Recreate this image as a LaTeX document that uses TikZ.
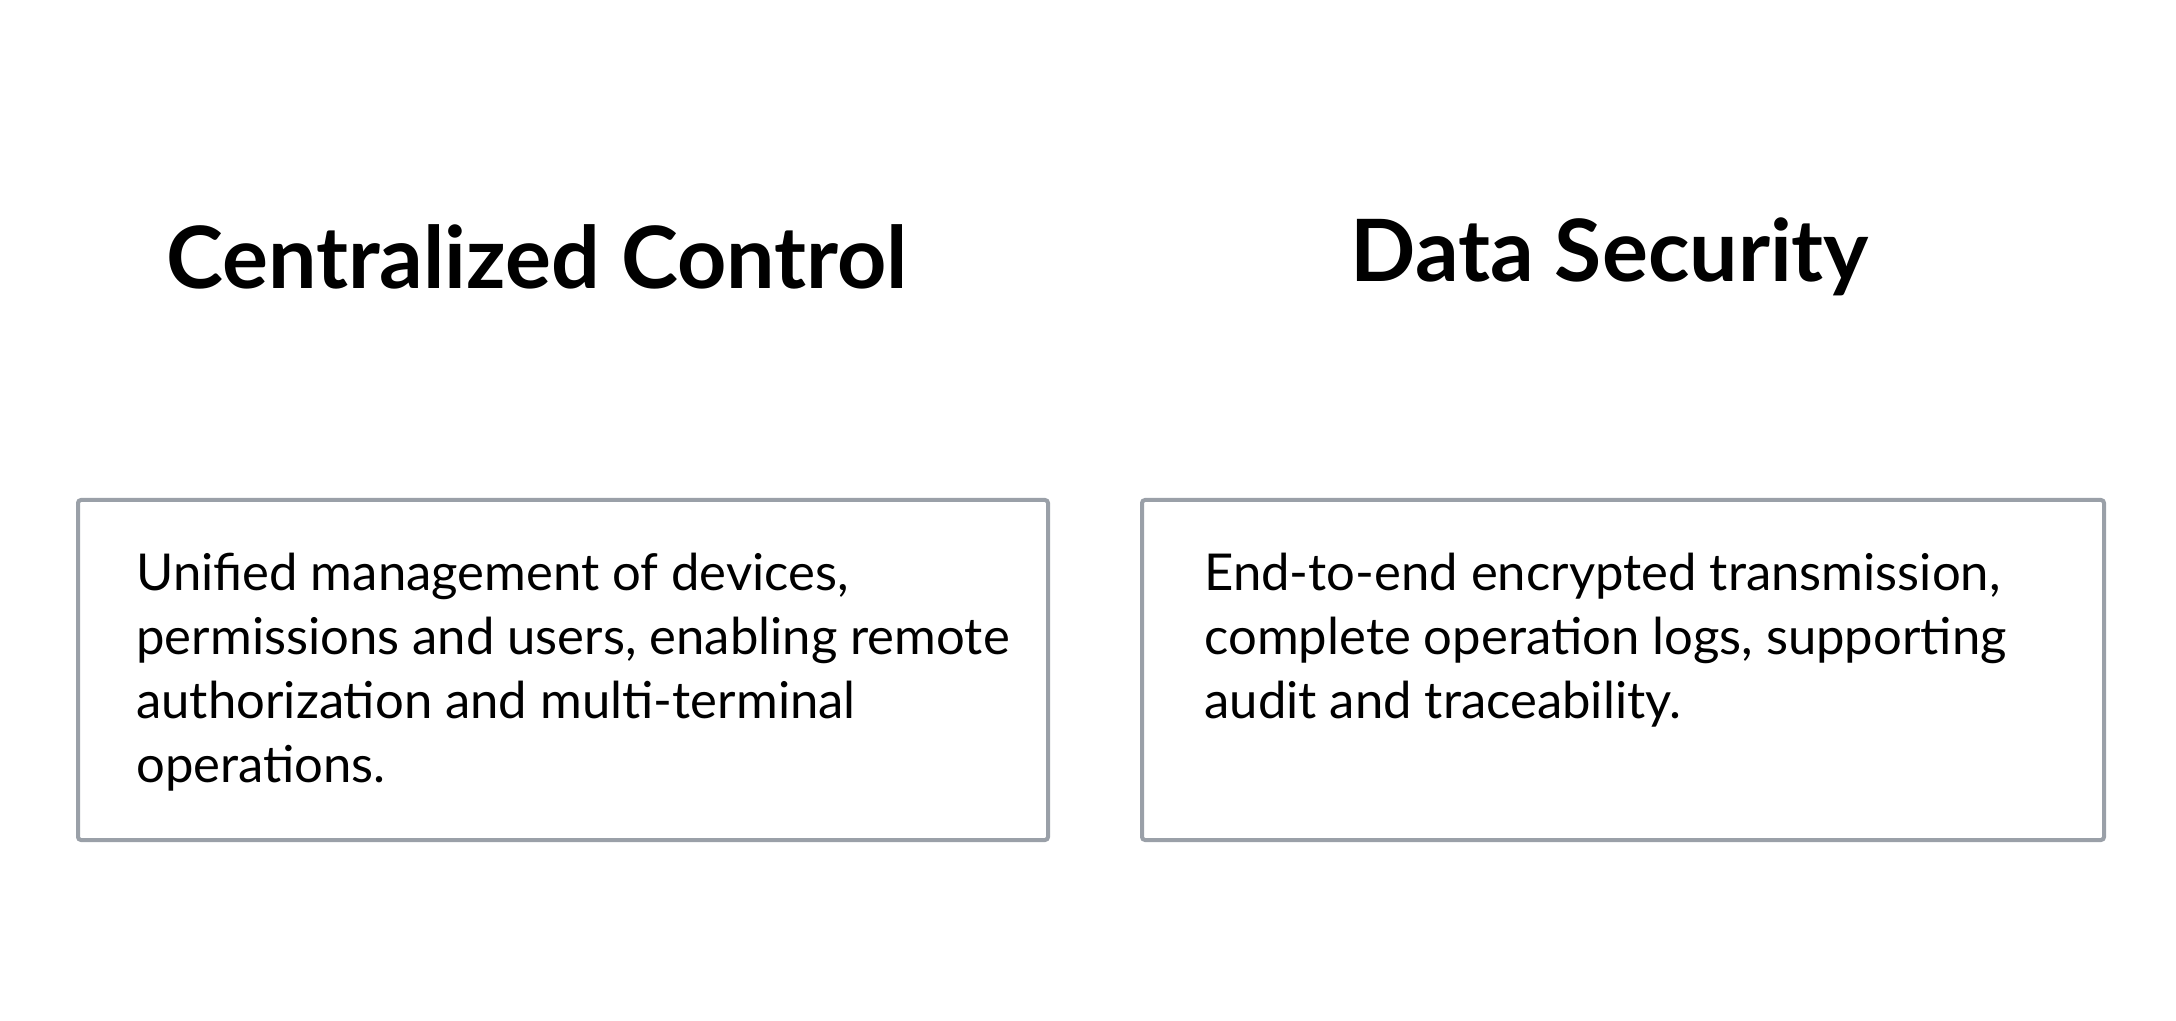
\documentclass[tikz,border=0pt]{standalone}
\usepackage{fontspec}
\setmainfont{Lato}
\definecolor{boxgray}{HTML}{9AA0A8}
\begin{document}
\begin{tikzpicture}[x=0.5pt,y=-0.5pt,
  box/.style={draw=boxgray,line width=2pt,rounded corners=1.5pt},
  title/.style={font=\fontsize{43}{50}\selectfont\bfseries,inner sep=0pt},
  body/.style={font=\fontsize{25.4}{32}\selectfont,align=left,anchor=north west,inner sep=0pt}]
\useasboundingbox (0,0) rectangle (2176,1021);
\node[title] (t1) at (537,257) {Centralized Control};
\node[title] (t2) at (1610,257) {Data Security};
\draw[box] (78,500) rectangle (1048,840);
\draw[box] (1142,500) rectangle (2104,840);
\node[body] (b1) at (136,553) {Unified management of devices,\\permissions and users, enabling remote\\authorization and multi-terminal\\operations.};
\node[body] (b2) at (1204,553) {End-to-end encrypted transmission,\\complete operation logs, supporting\\audit and traceability.};
\end{tikzpicture}
\end{document}
